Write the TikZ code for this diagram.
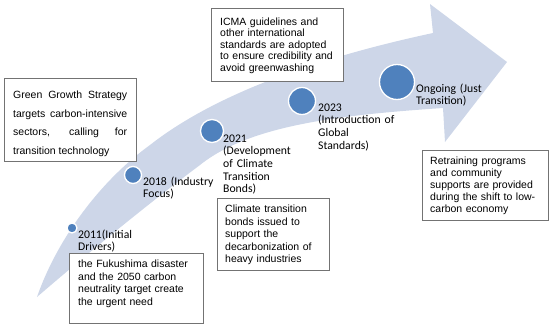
\documentclass[tikz,border=0pt]{standalone}
\usepackage{fontspec}
\setmainfont{Liberation Sans}
\newfontfamily\labelfont{Carlito}
\definecolor{arrowfill}{RGB}{205,214,232}
\definecolor{dotblue}{RGB}{79,129,189}
\definecolor{boxgray}{RGB}{115,115,115}
\begin{document}
\begin{tikzpicture}[x=1pt,y=-1pt,
  dot/.style={circle,fill=dotblue,draw=white,line width=1.3pt,inner sep=0pt},
  boxframe/.style={draw=boxgray,line width=0.7pt,fill=white,inner sep=0pt,anchor=north west},
  boxtext/.style={anchor=base west,inner sep=0pt,text width=#1,align=left,font=\fontsize{10.5}{12.5}\selectfont},
  lbl/.style={anchor=base west,inner sep=0pt,text width=110pt,align=left,font=\labelfont\fontsize{11.7}{12.7}\selectfont}]
\useasboundingbox (0,0) rectangle (550,327);
% swoosh arrow
\fill[arrowfill] (37,297) .. controls (55,245) and (95,185) .. (150,145)
  .. controls (220,90) and (330,55) .. (433,33) -- (430,4) -- (507,62) -- (445,142) -- (443,108)
  .. controls (340,115) and (250,125) .. (200,165)
  .. controls (140,210) and (80,260) .. cycle;
% dots
\node[dot,minimum size=10pt] (d2011) at (72,228) {};
\node[dot,minimum size=17pt] (d2018) at (133,175) {};
\node[dot,minimum size=23pt] (d2021) at (212,131) {};
\node[dot,minimum size=27pt] (d2023) at (302,101) {};
\node[dot,minimum size=35pt] (dgo) at (397,82) {};
% labels
\node[lbl] (l2011) at (78,238) {2011(Initial\\Drivers)};
\node[lbl] (l2018) at (143,185) {2018 (Industry\\Focus)};
\node[lbl] (l2021) at (223,142) {2021\\(Development\\of Climate\\Transition\\Bonds)};
\node[lbl] (l2023) at (318,111) {2023\\(Introduction of\\Global\\Standards)};
\node[lbl] (lgo) at (416,92) {Ongoing (Just\\Transition)};
% boxes
\node[boxframe,minimum width=132pt,minimum height=83pt] (bgreen) at (4,78) {};
\node[anchor=base west,inner sep=0pt,text width=114pt,align=justify,
  font=\fontsize{10.5}{18.5}\selectfont] (tgreen) at (13,98.5)
  {Green Growth Strategy\linebreak targets carbon-intensive\linebreak sectors, calling for\linebreak transition technology};
\node[boxframe,minimum width=132pt,minimum height=73pt] (bicma) at (211,8) {};
\node[boxtext=125pt,font=\fontsize{10.5}{11.6}\selectfont] (ticma) at (220,25)
  {ICMA guidelines and\\other international\\standards are adopted\\to ensure credibility and\\avoid greenwashing};
\node[boxframe,minimum width=112pt,minimum height=72pt] (bclim) at (217,198) {};
\node[boxtext=110pt] (tclim) at (225,212.5)
  {Climate transition\\bonds issued to\\support the\\decarbonization of\\heavy industries};
\node[boxframe,minimum width=134pt,minimum height=70pt] (bfuku) at (69,253) {};
\node[boxtext=125pt] (tfuku) at (78,267.5)
  {the Fukushima disaster\\and the 2050 carbon\\neutrality target create\\the urgent need};
\node[boxframe,minimum width=126pt,minimum height=70pt] (bretr) at (422,150) {};
\node[boxtext=120pt,font=\fontsize{10.5}{12}\selectfont] (tretr) at (430,164.5)
  {Retraining programs\\and community\\supports are provided\\during the shift to low-\\carbon economy};
\end{tikzpicture}
\end{document}
